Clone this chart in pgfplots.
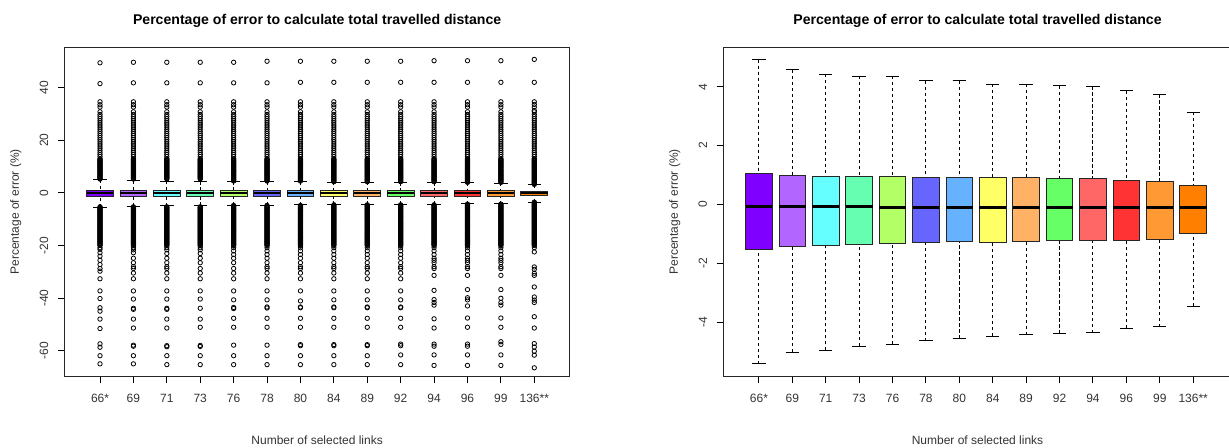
\documentclass[border=0pt]{standalone}
\usepackage{pgfplots}
\pgfplotsset{compat=1.18}
\usepackage{pgfplotstable}
\usepgfplotslibrary{statistics}
\usepackage{fontspec}
\setmainfont{Liberation Sans}

\definecolor{c1}{HTML}{8000FF}
\definecolor{c2}{HTML}{B266FF}
\definecolor{c3}{HTML}{66FFFF}
\definecolor{c4}{HTML}{66FFB2}
\definecolor{c5}{HTML}{B2FF66}
\definecolor{c6}{HTML}{6666FF}
\definecolor{c7}{HTML}{66B2FF}
\definecolor{c8}{HTML}{FFFF66}
\definecolor{c9}{HTML}{FFB266}
\definecolor{c10}{HTML}{66FF66}
\definecolor{c11}{HTML}{FF6666}
\definecolor{c12}{HTML}{FF3333}
\definecolor{c13}{HTML}{FF9933}
\definecolor{c14}{HTML}{FF8000}

% dense outliers shared by all groups (left panel)
\pgfplotstableread{y
5.25
5.5
5.75
6
6.25
6.5
6.75
7
7.25
7.5
7.75
8
8.25
8.5
8.75
9
9.25
9.5
9.75
10
10.25
10.5
10.75
11
11.25
11.5
11.75
12
12.25
12.5
12.75
13
13.8
14.6
15.4
16.2
17
17.8
18.6
19.4
20.2
21
21.8
22.6
23.4
24.2
25
25.8
26.6
27.4
28.2
29
29.8
30.8
}\dUp
\pgfplotstableread{y
-5.25
-5.5
-5.75
-6
-6.25
-6.5
-6.75
-7
-7.25
-7.5
-7.75
-8
-8.25
-8.5
-8.75
-9
-9.25
-9.5
-9.75
-10
-10.25
-10.5
-10.75
-11
-11.25
-11.5
-11.75
-12
-12.25
-12.5
-12.75
-13
-13.25
-13.5
-13.75
-14
-14.25
-14.5
-14.75
-15
-15.25
-15.5
-15.75
-16
-16.25
-16.5
-16.75
-17
-17.25
-17.5
-17.75
-18
-18.25
-18.5
-18.75
-19
-19.25
-19.5
-19.75
-20
}\dLow

% group specific outliers
\pgfplotstableread{y
49.4
41.5
34.6
33.5
32.6
-20.8
-21.4
-22.7
-24.0
-25.6
-27.2
-28.7
-29.7
-32.6
-37.2
-40.1
-43.6
-44.9
-47.9
-51.5
-57.3
-58.6
-61.8
-64.9
}\oA
\pgfplotstableread{y
49.6
41.8
34.6
33.5
32.6
-20.8
-21.6
-22.7
-24.8
-26.5
-28.0
-28.7
-30.4
-32.6
-37.2
-40.3
-43.8
-44.2
-47.9
-51.3
-57.8
-58.2
-61.8
-64.9
}\oB
\pgfplotstableread{y
49.6
41.8
34.6
33.5
32.6
-20.8
-21.6
-23.0
-24.8
-26.5
-28.0
-28.7
-30.4
-32.6
-37.2
-40.3
-43.8
-44.2
-47.9
-51.3
-58.0
-58.4
-61.8
-65.2
}\oC
\pgfplotstableread{y
49.6
41.8
34.6
33.5
32.6
-20.8
-21.6
-23.0
-24.8
-26.5
-28.7
-30.4
-32.6
-37.2
-40.3
-43.8
-47.9
-51.0
-57.9
-58.3
-61.8
-65.2
}\oD
\pgfplotstableread{y
49.6
41.8
34.6
33.5
32.6
4.5
4.75
5.0
-4.75
-5.0
-20.8
-22.0
-23.4
-24.8
-26.5
-28.7
-30.4
-32.6
-37.2
-40.6
-43.5
-43.9
-47.6
-51.0
-57.8
-61.8
-65.2
}\oE
\pgfplotstableread{y
50.0
41.8
34.6
33.5
32.6
4.5
4.75
5.0
-4.75
-5.0
-20.8
-22.0
-23.4
-24.8
-26.5
-28.0
-28.7
-30.4
-32.6
-37.2
-40.6
-43.3
-43.7
-47.6
-51.0
-57.8
-61.8
-65.2
}\oF
\pgfplotstableread{y
50.0
42.0
34.6
33.5
32.6
4.5
4.75
5.0
-4.75
-5.0
-20.8
-22.0
-23.4
-24.8
-26.5
-28.0
-28.7
-30.4
-32.6
-37.2
-41.0
-43.3
-43.6
-47.6
-51.0
-57.6
-58.0
-61.8
-65.2
}\oG
\pgfplotstableread{y
50.0
42.0
34.6
33.5
32.6
4.25
4.5
4.75
5.0
-4.5
-4.75
-5.0
-20.8
-22.0
-23.4
-24.8
-26.5
-28.0
-28.7
-30.4
-32.6
-37.2
-40.6
-43.3
-43.6
-47.6
-51.0
-57.6
-58.0
-61.8
-65.2
}\oH
\pgfplotstableread{y
50.0
42.0
34.6
33.5
32.6
4.25
4.5
4.75
5.0
-4.5
-4.75
-5.0
-20.8
-22.0
-23.4
-24.8
-26.5
-28.0
-28.7
-30.4
-32.6
-37.2
-40.6
-43.3
-43.6
-47.6
-51.0
-57.6
-58.0
-61.8
-65.2
}\oI
\pgfplotstableread{y
50.0
42.0
34.6
33.5
32.6
4.25
4.5
4.75
5.0
-4.5
-4.75
-5.0
-20.8
-22.0
-23.4
-24.8
-26.5
-28.0
-28.7
-30.4
-32.6
-37.2
-40.6
-43.3
-43.6
-47.6
-51.0
-57.4
-58.0
-61.5
-65.2
}\oJ
\pgfplotstableread{y
50.2
42.0
34.6
33.5
32.6
4.25
4.5
4.75
5.0
-4.5
-4.75
-5.0
-20.8
-22.0
-23.4
-24.8
-25.6
-26.5
-28.0
-28.7
-31.3
-37.0
-40.5
-41.6
-42.6
-47.8
-51.3
-57.4
-58.2
-61.5
-65.5
}\oK
\pgfplotstableread{y
50.2
42.0
34.6
33.5
32.6
4.0
4.25
4.5
4.75
5.0
-4.25
-4.5
-4.75
-5.0
-20.8
-22.0
-23.4
-24.8
-25.6
-26.5
-28.0
-28.7
-31.3
-36.7
-39.8
-40.6
-42.9
-47.5
-51.0
-57.4
-58.2
-61.5
-65.5
}\oL
\pgfplotstableread{y
50.2
42.0
34.6
33.5
32.6
4.0
4.25
4.5
4.75
5.0
-4.25
-4.5
-4.75
-5.0
-20.8
-22.0
-23.4
-24.8
-25.6
-26.5
-28.0
-28.7
-31.3
-36.7
-40.0
-41.6
-42.6
-47.5
-51.0
-56.5
-57.5
-61.5
-65.5
}\oM
\pgfplotstableread{y
50.7
42.0
34.6
33.6
32.6
31.3
3.25
3.5
3.75
4.0
4.25
4.5
4.75
5.0
-3.5
-3.75
-4.0
-4.25
-4.5
-4.75
-5.0
-20.8
-22.4
-28.1
-29.0
-30.5
-31.3
-35.7
-39.5
-40.7
-41.6
-47.0
-51.3
-57.2
-58.5
-60.1
-61.6
-66.4
}\oN
\pgfplotstablevertcat{\oA}{\dUp}\pgfplotstablevertcat{\oA}{\dLow}
\pgfplotstablevertcat{\oB}{\dUp}\pgfplotstablevertcat{\oB}{\dLow}
\pgfplotstablevertcat{\oC}{\dUp}\pgfplotstablevertcat{\oC}{\dLow}
\pgfplotstablevertcat{\oD}{\dUp}\pgfplotstablevertcat{\oD}{\dLow}
\pgfplotstablevertcat{\oE}{\dUp}\pgfplotstablevertcat{\oE}{\dLow}
\pgfplotstablevertcat{\oF}{\dUp}\pgfplotstablevertcat{\oF}{\dLow}
\pgfplotstablevertcat{\oG}{\dUp}\pgfplotstablevertcat{\oG}{\dLow}
\pgfplotstablevertcat{\oH}{\dUp}\pgfplotstablevertcat{\oH}{\dLow}
\pgfplotstablevertcat{\oI}{\dUp}\pgfplotstablevertcat{\oI}{\dLow}
\pgfplotstablevertcat{\oJ}{\dUp}\pgfplotstablevertcat{\oJ}{\dLow}
\pgfplotstablevertcat{\oK}{\dUp}\pgfplotstablevertcat{\oK}{\dLow}
\pgfplotstablevertcat{\oL}{\dUp}\pgfplotstablevertcat{\oL}{\dLow}
\pgfplotstablevertcat{\oM}{\dUp}\pgfplotstablevertcat{\oM}{\dLow}
\pgfplotstablevertcat{\oN}{\dUp}\pgfplotstablevertcat{\oN}{\dLow}

\pgfplotsset{
  rpanel/.style={
    scale only axis, height=164.6pt,
    xmin=-0.06,
    xtick={1,2,...,14},
    xticklabels={66*,69,71,73,76,78,80,84,89,92,94,96,99,136**},
    tick align=outside, xtick pos=left, ytick pos=left,
    major tick length=3.4pt,
    every tick/.append style={black, line width=0.5pt},
    axis line style={black!85, line width=0.5pt},
    tick label style={font=\fontsize{6}{7}\selectfont, inner sep=0pt, text=black!80},
    /pgf/number format/assume math mode=true,
    xticklabel style={anchor=north, yshift=-5.05pt},
    yticklabel style={xshift=-4.6pt, rotate=90, anchor=south},
    every axis title/.style={at={(axis description cs:0.5,1)}, anchor=base, yshift=11.5pt, inner sep=0pt, font=\bfseries\fontsize{7.05}{8.5}\selectfont},
    every axis x label/.style={at={(axis description cs:0.5,0)}, anchor=base, yshift=-34.25pt, inner sep=0pt, font=\fontsize{6}{7}\selectfont, text=black!80},
    every axis y label/.style={at={(axis description cs:0,0.5)}, xshift=-24.4pt, rotate=90, anchor=center, inner sep=0pt, font=\fontsize{6}{7}\selectfont, text=black!80},
    title={Percentage of error to calculate total travelled distance},
    xlabel={Number of selected links},
    ylabel={Percentage of error (\%)},
    boxplot/draw direction=y,
    boxplot/box extend=0.8,
    boxplot/whisker extend=0.4,
    boxplot/every median/.style={black, line width=1.5pt},
    boxplot/draw/lower whisker/.code={%
      \draw[black, line width=0.5pt, dash pattern=on 1.6pt off 1.4pt]
        (boxplot cs:\pgfplotsboxplotvalue{lower whisker}) --
        (boxplot cs:\pgfplotsboxplotvalue{lower quartile});
      \draw[black, line width=0.5pt, solid]
        (boxplot whisker cs:\pgfplotsboxplotvalue{lower whisker},0) --
        (boxplot whisker cs:\pgfplotsboxplotvalue{lower whisker},1);
    },
    boxplot/draw/upper whisker/.code={%
      \draw[black, line width=0.5pt, dash pattern=on 1.6pt off 1.4pt]
        (boxplot cs:\pgfplotsboxplotvalue{upper whisker}) --
        (boxplot cs:\pgfplotsboxplotvalue{upper quartile});
      \draw[black, line width=0.5pt, solid]
        (boxplot whisker cs:\pgfplotsboxplotvalue{upper whisker},0) --
        (boxplot whisker cs:\pgfplotsboxplotvalue{upper whisker},1);
    },
  },
  bx/.style={boxplot/every box/.style={draw=black!85, line width=0.45pt, fill=#1}},
  om/.style={mark=o, mark size=1.1pt, mark options={draw=black, fill=none, line width=0.4pt, solid}},
}

\begin{document}
\begin{tikzpicture}
\useasboundingbox (0,0) rectangle (614.5pt,224pt);
% ---------------- left panel (with outliers) ----------------
\begin{axis}[rpanel, at={(32.3pt,35.75pt)}, anchor=south west,
  width=252.55pt, xmax=15.06,
  ymin=-69.7, ymax=55.3, ytick={-60,-40,-20,0,20,40},
  boxplot/every median/.style={black, line width=0.8pt}]
\addplot[bx=c1, om, boxplot prepared={draw position=1, lower whisker=-5.41, lower quartile=-1.52, median=-0.07, upper quartile=1.06, upper whisker=4.92}] table[y=y] {\oA};
\addplot[bx=c2, om, boxplot prepared={draw position=2, lower whisker=-5.01, lower quartile=-1.43, median=-0.07, upper quartile=0.98, upper whisker=4.57}] table[y=y] {\oB};
\addplot[bx=c3, om, boxplot prepared={draw position=3, lower whisker=-4.95, lower quartile=-1.40, median=-0.07, upper quartile=0.96, upper whisker=4.43}] table[y=y] {\oC};
\addplot[bx=c4, om, boxplot prepared={draw position=4, lower whisker=-4.81, lower quartile=-1.37, median=-0.07, upper quartile=0.96, upper whisker=4.36}] table[y=y] {\oD};
\addplot[bx=c5, om, boxplot prepared={draw position=5, lower whisker=-4.74, lower quartile=-1.31, median=-0.10, upper quartile=0.96, upper whisker=4.36}] table[y=y] {\oE};
\addplot[bx=c6, om, boxplot prepared={draw position=6, lower whisker=-4.63, lower quartile=-1.29, median=-0.10, upper quartile=0.93, upper whisker=4.21}] table[y=y] {\oF};
\addplot[bx=c7, om, boxplot prepared={draw position=7, lower whisker=-4.55, lower quartile=-1.27, median=-0.10, upper quartile=0.93, upper whisker=4.21}] table[y=y] {\oG};
\addplot[bx=c8, om, boxplot prepared={draw position=8, lower whisker=-4.47, lower quartile=-1.28, median=-0.10, upper quartile=0.92, upper whisker=4.09}] table[y=y] {\oH};
\addplot[bx=c9, om, boxplot prepared={draw position=9, lower whisker=-4.43, lower quartile=-1.25, median=-0.10, upper quartile=0.91, upper whisker=4.09}] table[y=y] {\oI};
\addplot[bx=c10, om, boxplot prepared={draw position=10, lower whisker=-4.38, lower quartile=-1.23, median=-0.10, upper quartile=0.88, upper whisker=4.03}] table[y=y] {\oJ};
\addplot[bx=c11, om, boxplot prepared={draw position=11, lower whisker=-4.36, lower quartile=-1.23, median=-0.10, upper quartile=0.88, upper whisker=4.01}] table[y=y] {\oK};
\addplot[bx=c12, om, boxplot prepared={draw position=12, lower whisker=-4.20, lower quartile=-1.21, median=-0.10, upper quartile=0.83, upper whisker=3.87}] table[y=y] {\oL};
\addplot[bx=c13, om, boxplot prepared={draw position=13, lower whisker=-4.15, lower quartile=-1.19, median=-0.10, upper quartile=0.80, upper whisker=3.74}] table[y=y] {\oM};
\addplot[bx=c14, om, boxplot prepared={draw position=14, lower whisker=-3.45, lower quartile=-0.97, median=-0.10, upper quartile=0.65, upper whisker=3.14}] table[y=y] {\oN};
\end{axis}
% ---------------- right panel (no outliers) ----------------
\begin{axis}[rpanel, at={(361.75pt,35.75pt)}, anchor=south west,
  width=254pt, xmax=15.147,
  ymin=-5.84, ymax=5.34, ytick={-4,-2,0,2,4}]
\addplot[bx=c1, boxplot prepared={draw position=1, lower whisker=-5.41, lower quartile=-1.52, median=-0.07, upper quartile=1.06, upper whisker=4.92}] coordinates {};
\addplot[bx=c2, boxplot prepared={draw position=2, lower whisker=-5.01, lower quartile=-1.43, median=-0.07, upper quartile=0.98, upper whisker=4.57}] coordinates {};
\addplot[bx=c3, boxplot prepared={draw position=3, lower whisker=-4.95, lower quartile=-1.40, median=-0.07, upper quartile=0.96, upper whisker=4.43}] coordinates {};
\addplot[bx=c4, boxplot prepared={draw position=4, lower whisker=-4.81, lower quartile=-1.37, median=-0.07, upper quartile=0.96, upper whisker=4.36}] coordinates {};
\addplot[bx=c5, boxplot prepared={draw position=5, lower whisker=-4.74, lower quartile=-1.31, median=-0.10, upper quartile=0.96, upper whisker=4.36}] coordinates {};
\addplot[bx=c6, boxplot prepared={draw position=6, lower whisker=-4.63, lower quartile=-1.29, median=-0.10, upper quartile=0.93, upper whisker=4.21}] coordinates {};
\addplot[bx=c7, boxplot prepared={draw position=7, lower whisker=-4.55, lower quartile=-1.27, median=-0.10, upper quartile=0.93, upper whisker=4.21}] coordinates {};
\addplot[bx=c8, boxplot prepared={draw position=8, lower whisker=-4.47, lower quartile=-1.28, median=-0.10, upper quartile=0.92, upper whisker=4.09}] coordinates {};
\addplot[bx=c9, boxplot prepared={draw position=9, lower whisker=-4.43, lower quartile=-1.25, median=-0.10, upper quartile=0.91, upper whisker=4.09}] coordinates {};
\addplot[bx=c10, boxplot prepared={draw position=10, lower whisker=-4.38, lower quartile=-1.23, median=-0.10, upper quartile=0.88, upper whisker=4.03}] coordinates {};
\addplot[bx=c11, boxplot prepared={draw position=11, lower whisker=-4.36, lower quartile=-1.23, median=-0.10, upper quartile=0.88, upper whisker=4.01}] coordinates {};
\addplot[bx=c12, boxplot prepared={draw position=12, lower whisker=-4.20, lower quartile=-1.21, median=-0.10, upper quartile=0.83, upper whisker=3.87}] coordinates {};
\addplot[bx=c13, boxplot prepared={draw position=13, lower whisker=-4.15, lower quartile=-1.19, median=-0.10, upper quartile=0.80, upper whisker=3.74}] coordinates {};
\addplot[bx=c14, boxplot prepared={draw position=14, lower whisker=-3.45, lower quartile=-0.97, median=-0.10, upper quartile=0.65, upper whisker=3.14}] coordinates {};
\end{axis}
\end{tikzpicture}
\end{document}
